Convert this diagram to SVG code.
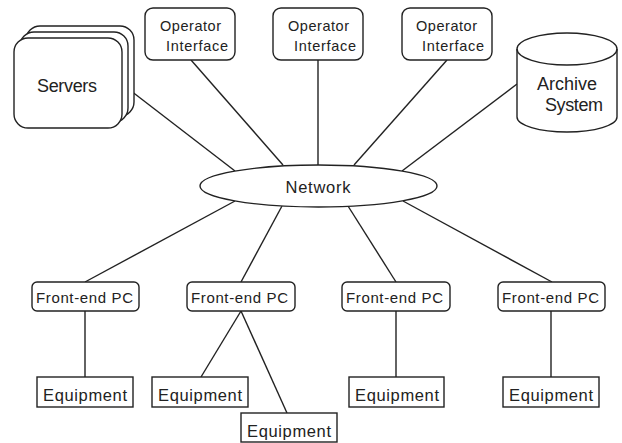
<svg xmlns="http://www.w3.org/2000/svg" width="622" height="443" viewBox="0 0 622 443">
<style>
.b{fill:#fff;stroke:#222;stroke-width:1.4}
.l{stroke:#222;stroke-width:1.4;fill:none}
text{font-family:"Liberation Sans",Arial,sans-serif;fill:#222}
.oi{font-size:14.5px}
.fe{font-size:15px}
.eq{font-size:16.5px}
.big{font-size:18px}
</style>
<rect width="622" height="443" fill="#fff"/>
<g id="connectors">
<line class="l" x1="122" y1="84" x2="235" y2="171"/>
<line class="l" x1="191" y1="60" x2="283" y2="165"/>
<line class="l" x1="318" y1="60" x2="318" y2="165"/>
<line class="l" x1="447" y1="60" x2="354" y2="165"/>
<line class="l" x1="517" y1="84" x2="402" y2="171"/>
<line class="l" x1="235" y1="201" x2="85" y2="282"/>
<line class="l" x1="282" y1="206" x2="241" y2="282"/>
<line class="l" x1="348" y1="206" x2="396" y2="282"/>
<line class="l" x1="403" y1="201" x2="552" y2="282"/>
<line class="l" x1="85" y1="311" x2="85" y2="377"/>
<line class="l" x1="241" y1="311" x2="201" y2="377"/>
<line class="l" x1="241" y1="311" x2="287" y2="413"/>
<line class="l" x1="396" y1="311" x2="396" y2="377"/>
<line class="l" x1="551" y1="311" x2="551" y2="377"/>
</g>
<g id="servers">
<rect class="b" x="26" y="26" width="108" height="90" rx="14"/>
<rect class="b" x="20" y="32" width="108" height="90" rx="14"/>
<rect class="b" x="14" y="38" width="108" height="90" rx="14"/>
<text class="big" x="67" y="92" text-anchor="middle" textLength="60">Servers</text>
</g>
<g id="oi1">
<rect class="b" x="145" y="8" width="90" height="52" rx="8"/>
<text class="oi" x="160" y="31" textLength="61">Operator</text>
<text class="oi" x="166" y="51" textLength="62">Interface</text>
</g>
<g id="oi2">
<rect class="b" x="273" y="8" width="90" height="52" rx="8"/>
<text class="oi" x="288" y="31" textLength="61">Operator</text>
<text class="oi" x="294" y="51" textLength="62">Interface</text>
</g>
<g id="oi3">
<rect class="b" x="402" y="8" width="90" height="52" rx="8"/>
<text class="oi" x="416" y="31" textLength="61">Operator</text>
<text class="oi" x="422" y="51" textLength="62">Interface</text>
</g>
<g id="archive">
<path class="b" d="M517,49 L517,117 A50,15 0 0 0 617,117 L617,49 A50,16 0 0 0 517,49 Z"/>
<path class="l" d="M517,49 A50,16 0 0 0 617,49"/>
<text class="big" x="537" y="90" textLength="60">Archive</text>
<text class="big" x="545" y="111" textLength="58">System</text>
</g>
<g id="network">
<ellipse class="b" cx="318.5" cy="186" rx="118.5" ry="21"/>
<text x="318" y="193" font-size="16.5" text-anchor="middle" textLength="65">Network</text>
</g>
<g id="fe1">
<rect class="b" x="32" y="282" width="107" height="29" rx="5"/>
<text class="fe" x="36" y="303" textLength="97">Front-end PC</text>
</g>
<g id="fe2">
<rect class="b" x="187" y="282" width="108" height="29" rx="5"/>
<text class="fe" x="191" y="303" textLength="97">Front-end PC</text>
</g>
<g id="fe3">
<rect class="b" x="342" y="282" width="108" height="29" rx="5"/>
<text class="fe" x="346" y="303" textLength="97">Front-end PC</text>
</g>
<g id="fe4">
<rect class="b" x="498" y="282" width="107" height="29" rx="5"/>
<text class="fe" x="502" y="303" textLength="97">Front-end PC</text>
</g>
<g id="eq1">
<rect class="b" x="37" y="377" width="96" height="30"/>
<text class="eq" x="43" y="401" textLength="84">Equipment</text>
</g>
<g id="eq2">
<rect class="b" x="152" y="377" width="96" height="30"/>
<text class="eq" x="158" y="401" textLength="84">Equipment</text>
</g>
<g id="eq3">
<rect class="b" x="241" y="413" width="96" height="29"/>
<text class="eq" x="247" y="437" textLength="84">Equipment</text>
</g>
<g id="eq4">
<rect class="b" x="349" y="377" width="95" height="30"/>
<text class="eq" x="355" y="401" textLength="84">Equipment</text>
</g>
<g id="eq5">
<rect class="b" x="503" y="377" width="96" height="30"/>
<text class="eq" x="509" y="401" textLength="84">Equipment</text>
</g>
</svg>
